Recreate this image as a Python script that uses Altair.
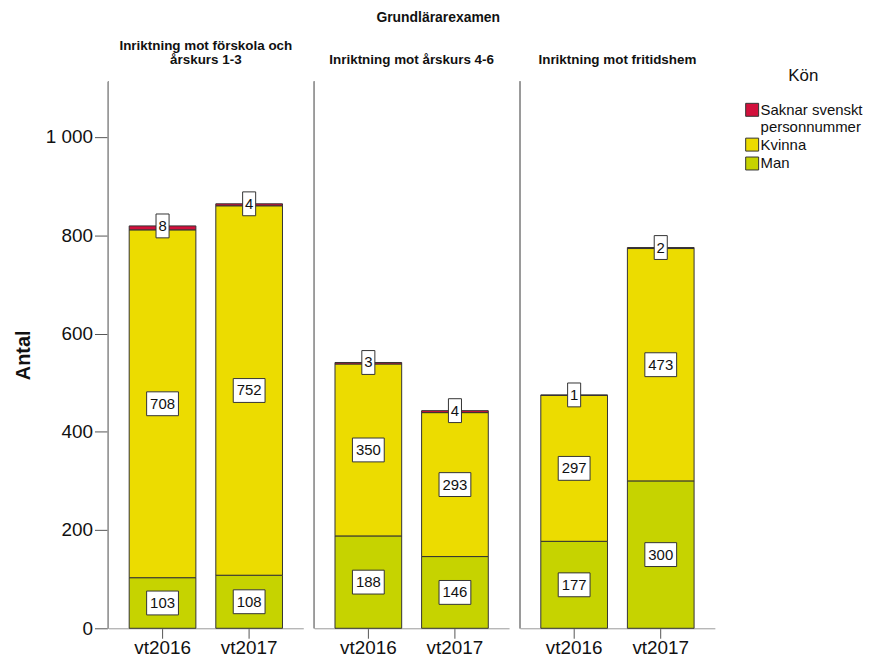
import altair as alt
import pandas as pd

panels = ["Inriktning mot förskola och årskurs 1-3", "Inriktning mot årskurs 4-6", "Inriktning mot fritidshem"]
years = ["vt2016", "vt2017"]
man = [103, 108, 188, 146, 177, 300]
kvinna = [708, 752, 350, 293, 297, 473]
saknar = [8, 4, 3, 4, 1, 2]
genders = ["Saknar svenskt personnummer", "Kvinna", "Man"]
colors = ["#d2103c", "#ecdc00", "#c6d300"]

rows = []
i = 0
for p in panels:
    for yr in years:
        m, k, s = man[i], kvinna[i], saknar[i]
        rows.append(dict(panel=p, year=yr, kon="Man", antal=m, order=0, lab_y=m / 2))
        rows.append(dict(panel=p, year=yr, kon="Kvinna", antal=k, order=1, lab_y=m + k / 2))
        rows.append(dict(panel=p, year=yr, kon="Saknar svenskt personnummer", antal=s, order=2, lab_y=m + k + s))
        i += 1
df = pd.DataFrame(rows)
df["label"] = df["antal"].astype(str)
df["box"] = df["label"].map(lambda t: "M-1,-0.75L1,-0.75L1,0.75L-1,0.75Z" if len(t) > 1 else "M-0.41,-0.75L0.41,-0.75L0.41,0.75L-0.41,0.75Z")

FONT = "Liberation Sans"
H = 550
ydom = [0, 1113]

xenc = alt.X("year:N", title=None,
             scale=alt.Scale(paddingInner=0.23, paddingOuter=0.24),
             axis=alt.Axis(labelAngle=0, labelFontSize=19, labelFont=FONT, labelColor="#111",
                           tickSize=10, tickColor="#555", domainColor="#999", labelPadding=0))

bars = alt.Chart().mark_bar(stroke="#333", strokeWidth=1).encode(
    x=xenc,
    y=alt.Y("sum(antal):Q", stack="zero", scale=alt.Scale(domain=ydom, nice=False),
            title="Antal",
            axis=alt.Axis(values=[0, 200, 400, 600, 800, 1000], grid=False,
                          labelExpr="replace(format(datum.value, ','), ',', ' ')",
                          labelFontSize=19, labelFont=FONT, labelColor="#111",
                          tickSize=13, tickColor="#555", domainColor="#999", labelPadding=2,
                          titleFontSize=20, titleFontWeight="bold", titleFont=FONT,
                          titleColor="#111", titlePadding=12)),
    color=alt.Color("kon:N", scale=alt.Scale(domain=genders, range=colors),
                    legend=alt.Legend(title="Kön", symbolType="square", symbolSize=170,
                                      symbolStrokeColor="#333", symbolStrokeWidth=1,
                                      labelFontSize=15, labelFont=FONT, labelColor="#111",
                                      titleFontSize=17, titleFont=FONT, titleFontWeight="normal",
                                      titleColor="#111", titleAnchor="middle", titlePadding=17,
                                      rowPadding=0, labelOffset=1,
                                      orient="none", legendX=640, legendY=-13,
                                      labelExpr="datum.label == 'Saknar svenskt personnummer' ? ['Saknar svenskt', 'personnummer'] : datum.label")),
    order=alt.Order("order:Q", sort="ascending"),
)

boxes = alt.Chart().mark_point(filled=True, fill="white", stroke="#333", strokeWidth=1, opacity=1, size=1024).encode(
    x=xenc,
    y=alt.Y("lab_y:Q", scale=alt.Scale(domain=ydom, nice=False)),
    shape=alt.Shape("box:N", scale=None),
)

texts = alt.Chart().mark_text(fontSize=15, font=FONT, color="#111").encode(
    x=xenc,
    y=alt.Y("lab_y:Q", scale=alt.Scale(domain=ydom, nice=False)),
    text="label:N",
)

edge = alt.Chart().mark_rule(color="#999", strokeWidth=1).encode(
    x=alt.value(0), y=alt.value(0), y2=alt.value(H)
)

layer = alt.layer(bars, edge, boxes, texts, data=df).properties(width=196, height=H)

chart = layer.facet(
    column=alt.Column("panel:N", sort=panels, title=None,
                      header=alt.Header(labelFontSize=13.5, labelFontWeight="bold", labelFont=FONT,
                                        labelColor="#111", labelBaseline="bottom", labelPadding=0,
                                        labelLineHeight=14,
                                        labelExpr="datum.value == 'Inriktning mot förskola och årskurs 1-3' ? ['Inriktning mot förskola och', 'årskurs 1-3'] : datum.value"))
).properties(
    title=alt.TitleParams("Grundlärarexamen", fontSize=14, fontWeight="bold", font=FONT,
                          color="#111", anchor="middle", offset=14),
    padding={"left": 5, "top": 1, "right": 2, "bottom": 2},
).resolve_scale(x="independent").configure_facet(spacing=10).configure_view(stroke=None)

chart.save("out.html", embed_options={"renderer": "svg", "actions": False})
